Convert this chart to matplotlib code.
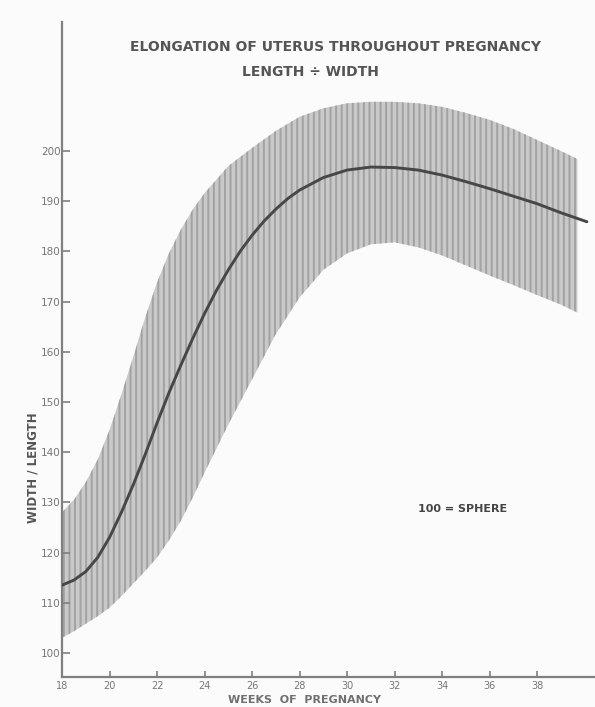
import matplotlib
matplotlib.use("Agg")
import matplotlib.pyplot as plt

# ---- data ----
weeks_mean = [18, 18.5, 19, 19.5, 20, 20.5, 21, 21.5, 22, 22.5, 23, 23.5, 24, 24.5, 25, 25.5, 26, 26.5, 27,
              27.5, 28, 29, 30, 31, 32, 33, 34, 35, 36, 37, 38, 39, 40.1]
mean_ratio = [113.5, 114.5, 116.2, 119.0, 123.0, 128.0, 133.5, 139.5, 145.8, 151.8, 157.3, 162.6, 167.6,
              172.2, 176.3, 180.0, 183.2, 186.0, 188.4, 190.5, 192.2, 194.7, 196.2, 196.8, 196.7, 196.2,
              195.2, 193.9, 192.5, 191.0, 189.5, 187.7, 185.9]

weeks_band = [18, 18.5, 19, 19.5, 20, 20.5, 21, 21.5, 22, 22.5, 23, 23.5, 24, 25, 26, 27, 28, 29, 30, 31,
              32, 33, 34, 35, 36, 37, 38, 39, 39.7]
band_upper = [128.0, 130.5, 134.0, 138.5, 144.4, 151.5, 159.0, 166.8, 173.8, 179.6, 184.3, 188.3, 191.6,
              197.0, 200.6, 204.0, 206.8, 208.5, 209.5, 209.8, 209.8, 209.5, 208.8, 207.6, 206.2, 204.4,
              202.2, 200.0, 198.4]
band_lower = [103.0, 104.3, 105.8, 107.3, 109.0, 111.3, 113.8, 116.3, 119.0, 122.4, 126.3, 130.9, 135.9,
              145.5, 154.5, 163.5, 170.8, 176.3, 179.6, 181.4, 181.8, 180.8, 179.2, 177.2, 175.2, 173.3,
              171.3, 169.4, 167.8]

x_ticks = [18, 20, 22, 24, 26, 28, 30, 32, 34, 36, 38]
y_ticks = [100, 110, 120, 130, 140, 150, 160, 170, 180, 190, 200]

title_line1 = "ELONGATION OF UTERUS THROUGHOUT PREGNANCY"
title_line2 = "LENGTH \u00f7 WIDTH"
note_text = "100 = SPHERE"
x_label = "WEEKS  OF  PREGNANCY"
y_label = "WIDTH / LENGTH"

# ---- style ----
plt.rcParams['hatch.color'] = '#a2a2a2'
plt.rcParams['hatch.linewidth'] = 1.4
text_col = '#555555'
axis_col = '#808080'

fig = plt.figure(figsize=(5.95, 7.07), dpi=100)
fig.patch.set_facecolor('#fbfbfb')
ax = fig.add_axes([62 / 595, 30 / 707, 1 - 62 / 595, (677 - 22) / 707])
ax.set_facecolor('#fbfbfb')

ax.fill_between(weeks_band, band_lower, band_upper, facecolor='#c9c9c9', edgecolor='none',
                hatch='|||', linewidth=0, zorder=1)
ax.plot(weeks_mean, mean_ratio, color='#474747', linewidth=2.1, solid_capstyle='round',
        solid_joinstyle='round', zorder=3)

ax.set_xlim(18, 40.44)
ax.set_ylim(95.2, 225.7)

for s in ['top', 'right']:
    ax.spines[s].set_visible(False)
for s in ['left', 'bottom']:
    ax.spines[s].set_color(axis_col)
    ax.spines[s].set_linewidth(1.6)

ax.set_xticks(x_ticks)
ax.set_xticklabels([str(v) for v in x_ticks])
ax.set_yticks(y_ticks)
ax.set_yticklabels([str(v) for v in y_ticks])
ax.tick_params(axis='y', direction='in', length=6, width=1.2, color=axis_col, pad=1,
               labelsize=7.5, labelcolor='#777777')
ax.tick_params(axis='x', direction='in', length=4, width=1.2, color=axis_col, pad=3,
               labelsize=7, labelcolor='#777777')

fig.text(130 / 595, 1 - 47 / 707, title_line1, fontsize=10, color=text_col, ha='left', va='center',
         fontweight='bold', family='DejaVu Sans')
fig.text(242 / 595, 1 - 72 / 707, title_line2, fontsize=10, color=text_col, ha='left', va='center',
         fontweight='bold', family='DejaVu Sans')
fig.text(418 / 595, 1 - 509 / 707, note_text, fontsize=8, color='#444444', ha='left', va='center',
         fontweight='bold')
fig.text(304 / 595, 1 - 700 / 707, x_label, fontsize=8, color='#707070', ha='center', va='center',
         fontweight='bold')
fig.text(33 / 595, 1 - 468 / 707, y_label, fontsize=8.5, color='#555555', ha='center', va='center',
         rotation=90, fontweight='bold')

fig.savefig('out.png', dpi=100, facecolor=fig.get_facecolor())
